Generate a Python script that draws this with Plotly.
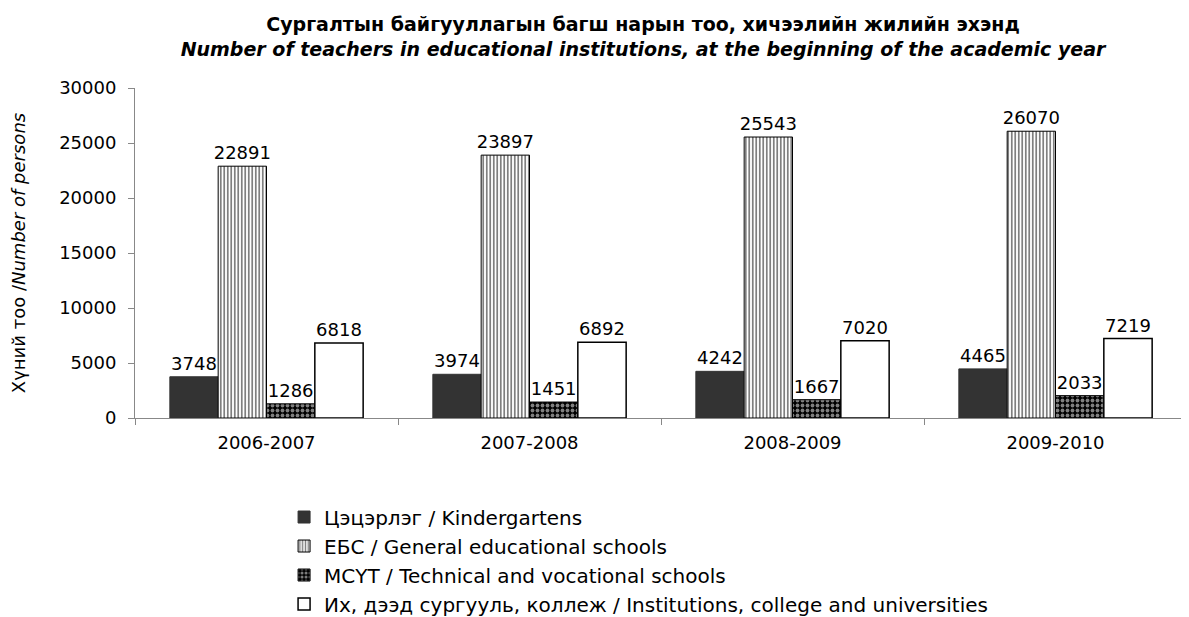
import plotly.graph_objects as go

years = ["2006-2007", "2007-2008", "2008-2009", "2009-2010"]
kindergartens = [3748, 3974, 4242, 4465]
general_schools = [22891, 23897, 25543, 26070]
technical_schools = [1286, 1451, 1667, 2033]
universities = [6818, 6892, 7020, 7219]

names = [
    "Цэцэрлэг / Kindergartens",
    "ЕБС / General educational schools",
    "МСҮТ / Technical and vocational schools",
    "Их, дээд сургууль, коллеж / Institutions, college and universities",
]

font = "DejaVu Sans, Arial, sans-serif"
fig = go.Figure()
fig.add_trace(go.Bar(x=years, y=kindergartens, name=names[0], legendgroup="a",
                     marker=dict(color="#333333", line=dict(color="#333333", width=1)),
                     text=kindergartens, textposition="outside"))
fig.add_trace(go.Bar(x=years, y=general_schools, name=names[1], legendgroup="b",
                     marker=dict(color="white", line=dict(color="black", width=1),
                                 pattern=dict(shape="|", fgcolor="black", bgcolor="white", size=3.5, solidity=0.5)),
                     text=general_schools, textposition="outside"))
fig.add_trace(go.Bar(x=years, y=technical_schools, name=names[2], legendgroup="c",
                     marker=dict(color="black", line=dict(color="black", width=1),
                                 pattern=dict(shape=".", fgcolor="white", bgcolor="black", size=5, solidity=0.45)),
                     text=technical_schools, textposition="outside"))
fig.add_trace(go.Bar(x=years, y=universities, name=names[3], legendgroup="d",
                     marker=dict(color="white", line=dict(color="black", width=1.5)),
                     text=universities, textposition="outside"))

fig.update_traces(textfont=dict(size=18, color="black", family=font), cliponaxis=False,
                  constraintext="none")

fig.update_layout(
    width=1181, height=609,
    paper_bgcolor="white", plot_bgcolor="white",
    font=dict(family=font, size=18, color="black"),
    barmode="group", bargap=0.265, bargroupgap=0,
    margin=dict(l=127, r=2, t=80, b=199, autoexpand=False),
    title=dict(text="<b>Сургалтын байгууллагын багш нарын тоо, хичээлийн жилийн эхэнд</b><br>"
                    "<b><i>Number of teachers in educational institutions, at the beginning of the academic year</i></b>",
               x=0.5377, xanchor="center", y=0.962, yanchor="top",
               font=dict(size=19, family=font, color="black")),
    xaxis=dict(showline=True, linecolor="#888888", linewidth=1, ticks="outside", tickson="boundaries",
               ticklen=6, tickcolor="#888888", showgrid=False, tickfont=dict(size=18), automargin=False,
               ticklabelstandoff=8),
    yaxis=dict(range=[0, 30000], dtick=5000, tickformat="d", showline=True, linecolor="#888888", linewidth=1,
               ticks="outside", ticklen=6, tickcolor="#888888", showgrid=False, zeroline=False,
               tickfont=dict(size=18), automargin=False, ticklabelstandoff=8,
               title=dict(text="Хүний тоо /<i>Number of persons</i>", font=dict(size=18), standoff=34)),
    legend=dict(orientation="v", x=0.1417, xanchor="left", y=-0.241, yanchor="top",
                font=dict(size=20), tracegroupgap=9, traceorder="normal"),
    showlegend=True,
)

fig.write_html("out.html")
